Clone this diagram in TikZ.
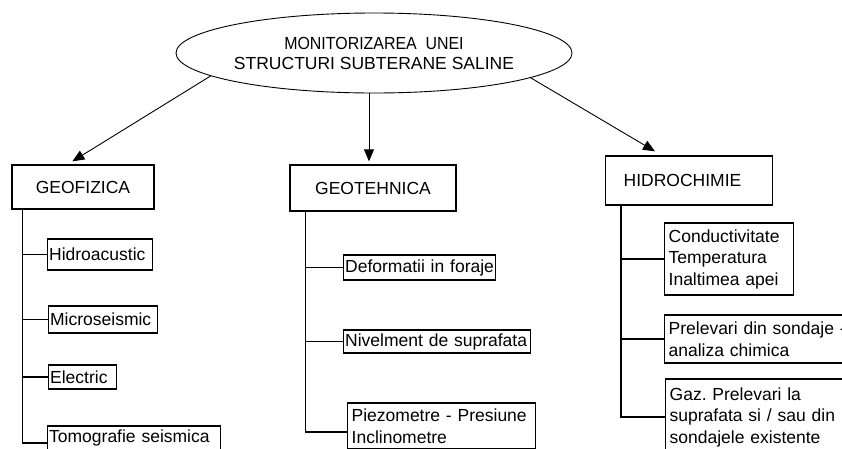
\documentclass[tikz,border=0pt]{standalone}
\usepackage{fontspec}
\setmainfont{Liberation Sans}
\usetikzlibrary{arrows.meta,shapes.geometric}
\begin{document}
\frenchspacing
\begin{tikzpicture}[x=1pt,y=-1pt,
  every node/.style={font=\fontsize{17.5}{21.5}\selectfont},
  rootnode/.style={draw, ellipse, line width=0.9pt, inner sep=0pt,
    minimum width=314pt, minimum height=80pt, align=center},
  group/.style={draw, line width=1.3pt, inner sep=0pt},
  leaf/.style={draw, line width=1.3pt, anchor=west, inner xsep=1.5pt,
    inner ysep=0pt, align=left},
  arr/.style={line width=0.9pt, -{Triangle[length=12pt,width=10pt]}},
  tree/.style={line width=1.3pt}]
\path[use as bounding box] (0,0) rectangle (842,448);
\clip (0,0) rectangle (842,448);

% root
\node[rootnode] (root) at (374,53)
  {\scalebox{0.91}[1]{MONITORIZAREA\ \ UNEI}\\[-1.5pt]STRUCTURI SUBTERANE SALINE};

% the three domains
\node[group, minimum width=142pt, minimum height=44pt] (geo) at (83,187) {GEOFIZICA};
\node[group, minimum width=166pt, minimum height=46pt] (tech) at (373,188) {GEOTEHNICA};
\node[group, anchor=west, inner xsep=18pt, text width=131pt, align=left,
  minimum height=49pt] (hyd) at (605,180.5) {HIDROCHIMIE};

% arrows from the root
\draw[arr] (root.188) -- ([xshift=61pt,yshift=3pt]geo.north west);
\draw[arr] ([xshift=-5pt]root.south) -- ([xshift=-4pt,yshift=3pt]tech.north);
\draw[arr] (root.-9) -- ([xshift=50pt,yshift=4pt]hyd.north west);

% geofizica
\node[leaf, text width=102pt, minimum height=31pt] (g1) at (47,254.5) {Hidroacustic};
\node[leaf, text width=106pt, minimum height=27pt] (g2) at (48,319.5) {Microseismic};
\node[leaf, text width=65pt, minimum height=24pt] (g3) at (48,377) {Electric};
\node[leaf, text width=170pt, minimum height=24pt] (g4) at (47,438) {Tomografie seismica};

% geotehnica
\node[leaf, text width=149pt, minimum height=25pt] (t1) at (343,267.5) {\mbox{Deformatii in foraje}};
\node[leaf, text width=184pt, minimum height=23pt] (t2) at (343,341.5) {\mbox{Nivelment de suprafata}};
\node[leaf, inner xsep=4pt, text width=180pt, minimum height=46pt] (t3) at (347,426)
  {Piezometre - Presiune\\Inclinometre};

% hidrochimie
\node[leaf, inner xsep=4pt, text width=121pt, minimum height=72pt] (h1) at (664,259)
  {Conductivitate\\Temperatura\\Inaltimea apei};
\node[leaf, inner xsep=4pt, text width=200pt, minimum height=48pt] (h2) at (664,339)
  {Prelevari din sondaje -\\analiza chimica};
\node[leaf, inner xsep=4pt, text width=200pt, minimum height=76pt] (h3) at (665,417)
  {Gaz. Prelevari la\\suprafata si / sau din\\sondajele existente};

% branch lines
\foreach \l in {g1,g2,g3}
  \draw[tree] ([xshift=11pt]geo.south west) |- (\l.west);
\draw[tree] ([xshift=11pt]geo.south west) |- ([yshift=-5pt]g4.west);
\foreach \l in {t1,t2}
  \draw[tree] ([xshift=16pt]tech.south west) |- (\l.west);
\draw[tree] ([xshift=16pt]tech.south west) |- ([yshift=-6pt]t3.west);
\foreach \l in {h1,h2,h3}
  \draw[tree] ([xshift=16pt]hyd.south west) |- (\l.west);
\end{tikzpicture}
\end{document}
